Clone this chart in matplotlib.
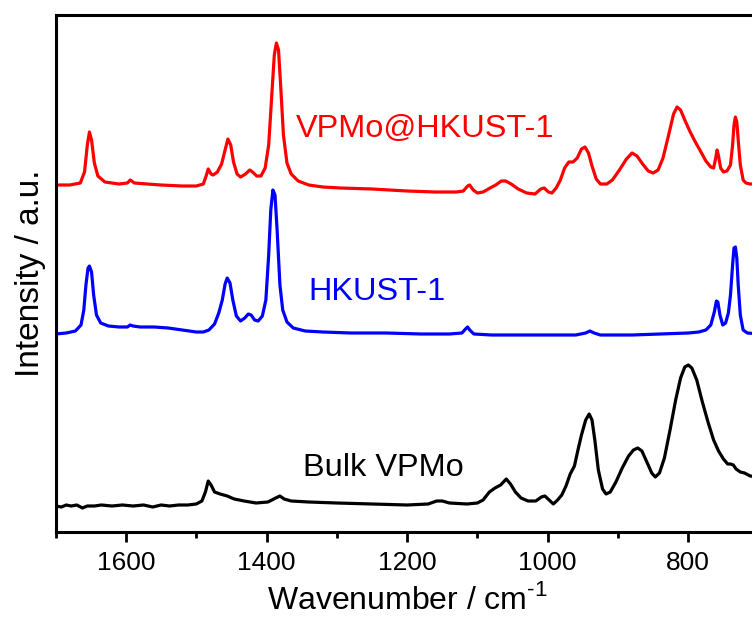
"""Recreate the FTIR spectra comparison of VPMo@HKUST-1, HKUST-1 and bulk VPMo."""

from __future__ import annotations

from typing import Sequence

import matplotlib

matplotlib.use("Agg")
import matplotlib.pyplot as plt
from matplotlib.ticker import MultipleLocator

plt.rcParams["font.family"] = ["Liberation Sans", "DejaVu Sans"]
plt.rcParams["mathtext.fontset"] = "custom"
plt.rcParams["mathtext.rm"] = "Liberation Sans"

# Traces: wavenumber (cm-1) and intensity (a.u., stacked).
VPMO_HKUST_WN = [
    1700, 1680, 1665, 1659, 1655, 1652, 1649, 1645, 1640, 1630, 1610, 1598, 1594,
    1588, 1570, 1550, 1520, 1500, 1490, 1486, 1483, 1479, 1476, 1470, 1464, 1459,
    1455, 1451, 1447, 1442, 1437, 1430, 1424, 1420, 1414, 1408, 1402, 1397, 1393,
    1389, 1386, 1383, 1380, 1376, 1371, 1365, 1355, 1340, 1320, 1295, 1250, 1200,
    1160, 1130, 1120, 1114, 1111, 1106, 1100, 1092, 1082, 1074, 1066, 1060, 1052,
    1042, 1030, 1018, 1010, 1005, 999, 994, 988, 982, 976, 970, 964, 958, 952,
    947, 942, 937, 931, 925, 916, 908, 898, 888, 880, 873, 865, 857, 850, 843,
    836, 828, 821, 816, 811, 805, 798, 790, 782, 775, 768, 764, 761, 759, 757,
    754, 750, 745, 740, 737, 735, 733, 731, 729, 726, 722, 718, 712, 698,
]
VPMO_HKUST_I = [
    347, 347, 349, 360, 387, 400, 392, 369, 356, 350, 348, 349, 352,
    349, 348, 347, 346, 346, 348, 356, 363, 358, 357, 360, 368, 382,
    393, 387, 370, 358, 355, 358, 362, 360, 356, 356, 364, 387, 432,
    477, 489, 482, 447, 397, 369, 358, 351, 347, 345, 344, 343, 341,
    340, 340, 341, 346, 347, 342, 339, 340, 344, 347, 351, 351, 348,
    343, 339, 338, 343, 344, 340, 339, 344, 352, 364, 370, 370, 374, 383,
    385, 379, 366, 353, 348, 348, 352, 362, 373, 379, 376, 368, 361, 359, 362,
    374, 397, 418, 425, 422, 412, 401, 390, 380, 371, 365, 364, 374, 382, 376,
    364, 360, 361, 367, 387, 407, 415, 410, 392, 367, 352, 349, 348, 348,
]

HKUST_WN = [
    1700, 1685, 1672, 1664, 1660, 1657, 1654, 1652, 1649, 1646, 1642, 1636, 1625,
    1610, 1598, 1594, 1590, 1580, 1560, 1540, 1520, 1500, 1490, 1482, 1474, 1468,
    1463, 1459, 1456, 1452, 1448, 1443, 1437, 1431, 1426, 1422, 1417, 1412, 1406,
    1401, 1397, 1394, 1391, 1388, 1385, 1381, 1377, 1371, 1362, 1345, 1320, 1280,
    1230, 1180, 1140, 1122, 1117, 1114, 1111, 1105, 1080, 1040, 1000, 960, 946,
    940, 934, 925, 880, 840, 800, 785, 775, 768, 763, 760, 758, 755, 751, 747,
    743, 740, 737, 735, 733, 731, 729, 726, 722, 716, 698,
]
HKUST_I = [
    198, 199, 201, 207, 222, 247, 264, 266, 260, 237, 217, 209, 206,
    205, 205, 207, 206, 205, 205, 204, 202, 200, 200, 202, 208, 219,
    232, 248, 254, 249, 232, 216, 211, 214, 218, 217, 212, 211, 216,
    232, 277, 322, 342, 337, 302, 247, 222, 210, 204, 201, 200, 199,
    199, 198, 198, 199, 203, 205, 202, 198, 197, 197, 197, 197, 199,
    201, 199, 197, 197, 198, 199, 200, 202, 207, 220, 231, 230, 217, 207, 209,
    219, 237, 267, 284, 285, 274, 247, 217, 202, 199, 198,
]

BULK_VPMO_WN = [
    1700, 1692, 1685, 1678, 1670, 1662, 1655, 1645, 1635, 1620, 1605, 1590, 1575,
    1562, 1550, 1538, 1525, 1512, 1500, 1492, 1487, 1483, 1479, 1474, 1466, 1456,
    1446, 1432, 1415, 1398, 1387, 1381, 1375, 1365, 1340, 1300, 1250, 1200, 1170,
    1158, 1150, 1140, 1115, 1100, 1092, 1083, 1075, 1067, 1059, 1053, 1046, 1038,
    1028, 1017, 1009, 1004, 998, 992, 986, 980, 974, 968, 962, 957, 952, 946,
    941, 937, 933, 928, 922, 917, 911, 903, 894, 885, 878, 872, 866, 859, 852,
    847, 841, 834, 826, 818, 811, 805, 800, 795, 788, 780, 772, 764, 757, 750,
    744, 740, 736, 732, 726, 720, 712, 698,
]
BULK_VPMO_I = [
    26, 25, 27, 26, 27, 24, 26, 26, 27, 26, 27, 26, 27,
    25, 27, 26, 27, 27, 28, 31, 40, 51, 47, 40, 38, 36,
    33, 31, 29, 30, 34, 36, 33, 31, 30, 29, 28, 27, 28,
    31, 31, 29, 28, 29, 32, 40, 44, 47, 53, 48, 40, 34,
    31, 31, 35, 36, 32, 28, 32, 37, 46, 58, 66, 82, 97, 112,
    118, 112, 92, 62, 43, 38, 40, 50, 64, 76, 82, 84, 81, 70, 59,
    55, 59, 74, 102, 132, 154, 165, 167, 164, 152, 130, 110, 92, 81, 73,
    68, 68, 67, 63, 60, 59, 56, 55,
]

SPECTRUM_LABELS = ["VPMo@HKUST-1", "HKUST-1", "Bulk VPMo"]
SPECTRUM_COLORS = ["#ff0000", "#0000ff", "#000000"]
LABEL_POSITIONS = [(1358, 403), (1341, 240), (1348, 64)]
MAJOR_TICKS = [1600, 1400, 1200, 1000, 800]


def plot_spectrum(ax: plt.Axes, wavenumber: Sequence[float], intensity: Sequence[float], color: str) -> None:
    """Draw a single stacked spectrum trace."""

    ax.plot(wavenumber, intensity, color=color, linewidth=2.3, solid_joinstyle="round")


def style_axes(ax: plt.Axes) -> None:
    """Apply the Origin-like frame, ticks and labels."""

    ax.set_xlim(1700, 698)
    ax.set_ylim(0, 517)
    ax.set_xticks(MAJOR_TICKS)
    ax.xaxis.set_minor_locator(MultipleLocator(100))
    ax.set_yticks([])
    ax.tick_params(axis="x", which="major", direction="out", length=7.5, width=2.0,
                   labelsize=19, pad=6.5, top=False)
    ax.tick_params(axis="x", which="minor", direction="out", length=4.5, width=2.0, top=False)
    for spine in ax.spines.values():
        spine.set_linewidth(2.2)
    ax.set_xlabel("Wavenumber / cm$^{\\text{-1}}$", fontsize=23, labelpad=6)
    ax.set_ylabel("Intensity / a.u.", fontsize=24, labelpad=7)


def main() -> None:
    """Build the figure and save it as out.png."""

    fig = plt.figure(figsize=(7.52, 6.19), dpi=100)
    ax = fig.add_axes([55.7 / 752, 1 - 532 / 619, 704.3 / 752, 517 / 619])

    traces = [
        (VPMO_HKUST_WN, VPMO_HKUST_I),
        (HKUST_WN, HKUST_I),
        (BULK_VPMO_WN, BULK_VPMO_I),
    ]
    for (wn, inten), color in zip(traces, SPECTRUM_COLORS):
        plot_spectrum(ax, wn, inten, color)

    for label, color, (x, y) in zip(SPECTRUM_LABELS, SPECTRUM_COLORS, LABEL_POSITIONS):
        ax.text(x, y, label, color=color, fontsize=23.4, ha="left", va="center")

    style_axes(ax)
    fig.savefig("out.png", dpi=100)


if __name__ == "__main__":
    main()
